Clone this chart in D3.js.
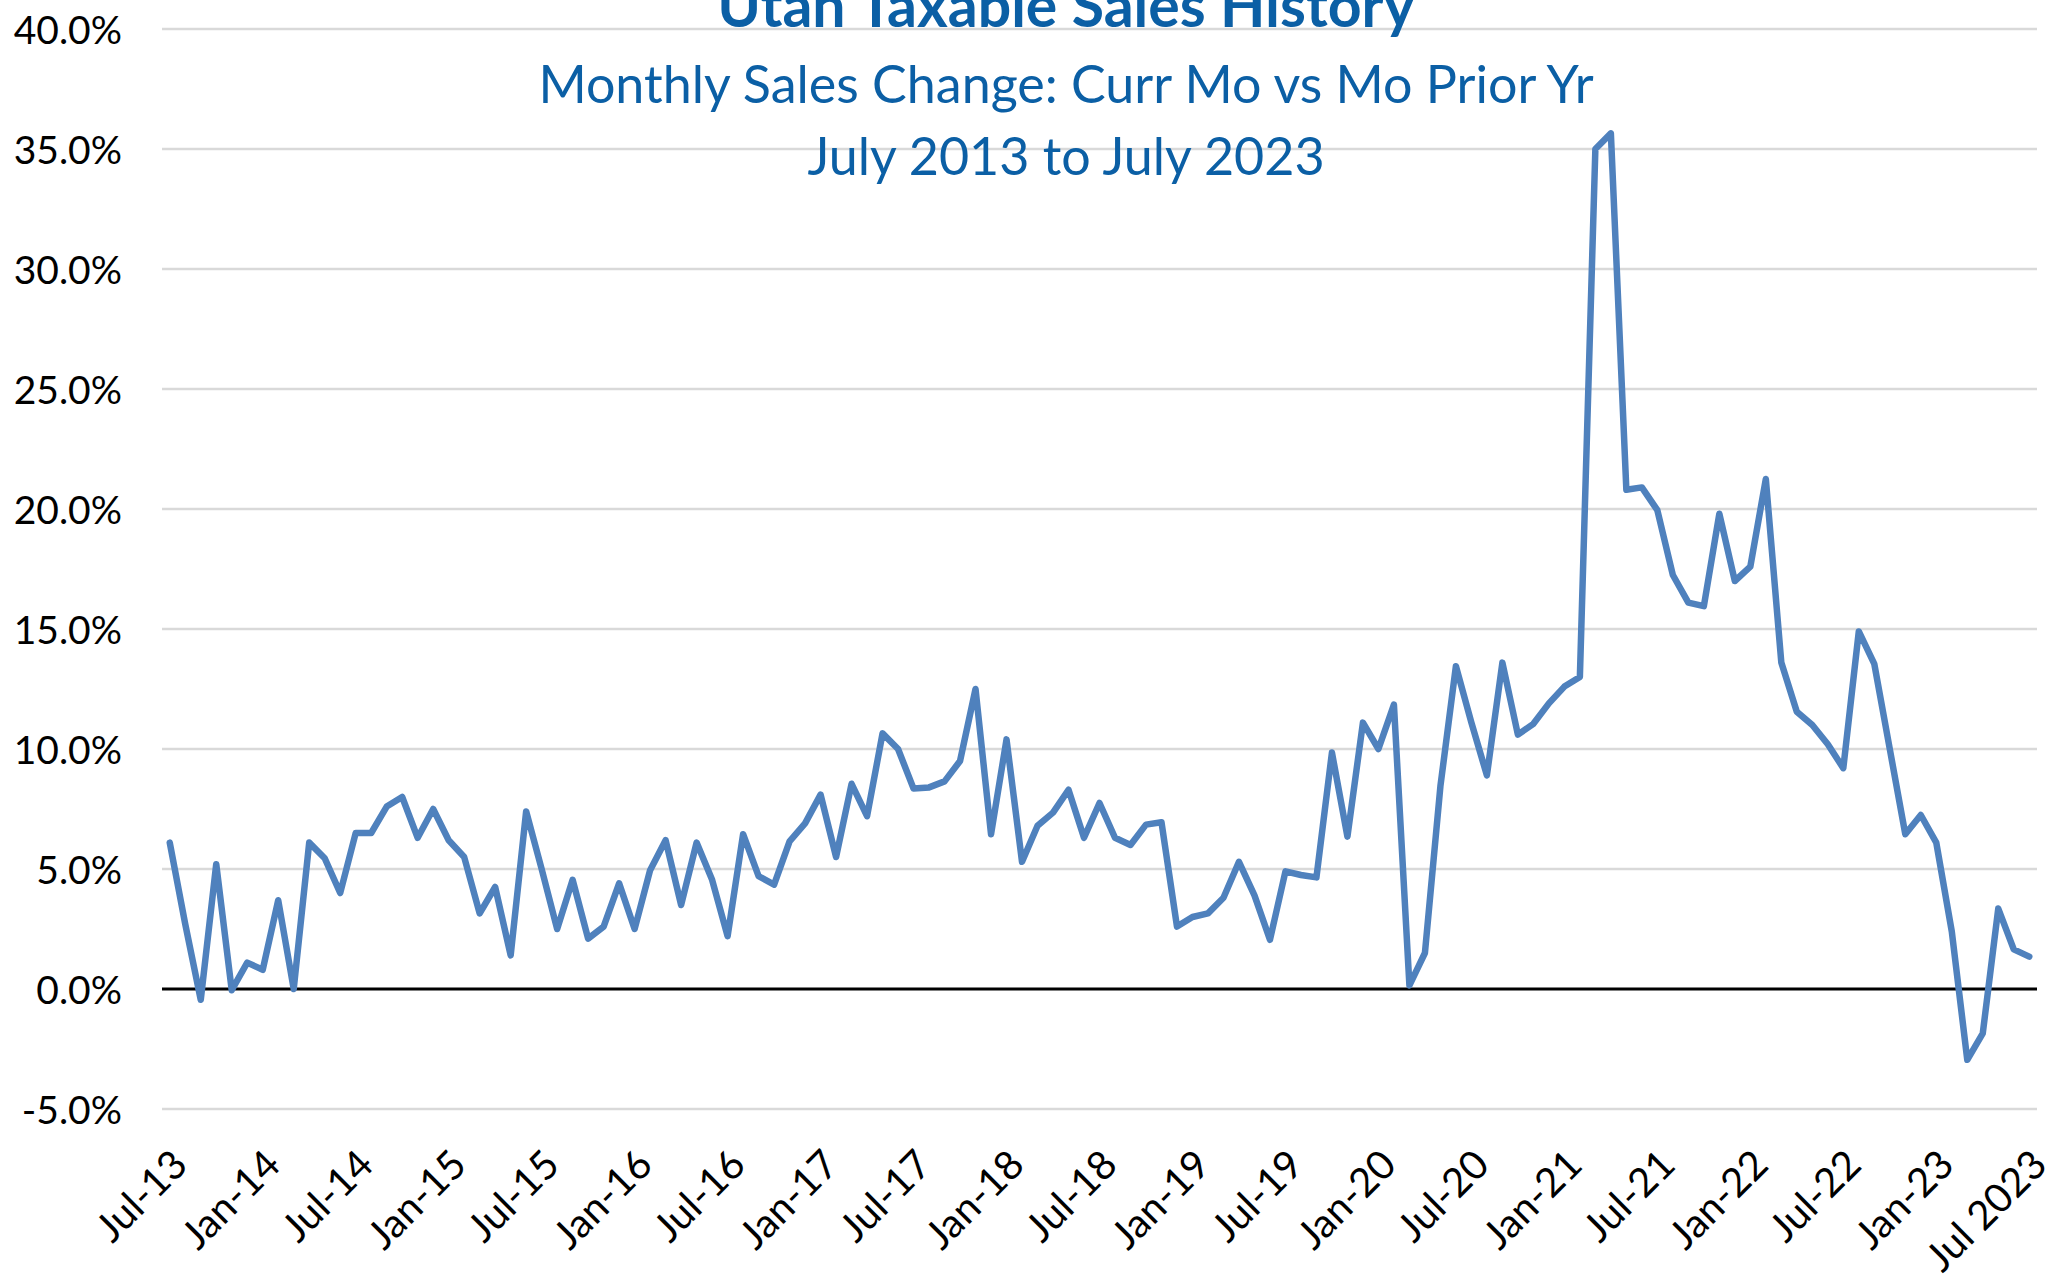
<!DOCTYPE html>
<html>
<head>
<meta charset="utf-8">
<script src="https://cdn.jsdelivr.net/npm/d3@7"></script>
<style>
	body { margin: 0; background: #fff; }
	.axis_text { font-family: Lato, "Open Sans", sans-serif; fill: #000; }
</style>
</head>
<body>
<figure id="salesline" style="margin:0"></figure>
<script>
// monthly change vs same month prior year, Jul 2013 .. Jul 2023 (percent)
var salesChange = [
	6.1, 2.7, -0.45, 5.2, -0.05, 1.1, 0.8, 3.7, 0.0, 6.1, 5.45, 4.0,
	6.5, 6.5, 7.6, 8.0, 6.3, 7.5, 6.2, 5.5, 3.15, 4.25, 1.4, 7.4,
	5.0, 2.5, 4.55, 2.1, 2.6, 4.4, 2.5, 4.95, 6.2, 3.5, 6.1, 4.55,
	2.2, 6.45, 4.7, 4.35, 6.15, 6.9, 8.1, 5.5, 8.55, 7.2, 10.65, 10.0,
	8.35, 8.4, 8.65, 9.5, 12.5, 6.45, 10.4, 5.3, 6.8, 7.35, 8.3, 6.3,
	7.75, 6.3, 6.0, 6.85, 6.95, 2.6, 3.0, 3.15, 3.8, 5.3, 3.9, 2.05,
	4.9, 4.75, 4.65, 9.85, 6.35, 11.1, 10.0, 11.85, 0.15, 1.5, 8.45, 13.45,
	11.1, 8.9, 13.6, 10.6, 11.05, 11.9, 12.6, 13.0, 35.0, 35.65, 20.8, 20.9,
	19.95, 17.25, 16.1, 15.95, 19.8, 17.0, 17.6, 21.25, 13.6, 11.55, 11.0, 10.2,
	9.2, 14.9, 13.55, 10.0, 6.45, 7.25, 6.1, 2.4, -2.95, -1.85, 3.35, 1.65,
	1.35
];

var monthList = d3.timeMonth.range(new Date(2013, 6, 1), new Date(2023, 7, 1));

var tickLabels = ["Jul-13", "Jan-14", "Jul-14", "Jan-15", "Jul-15", "Jan-16", "Jul-16",
	"Jan-17", "Jul-17", "Jan-18", "Jul-18", "Jan-19", "Jul-19", "Jan-20", "Jul-20",
	"Jan-21", "Jul-21", "Jan-22", "Jul-22", "Jan-23", "Jul 2023"];

var yTicks = [-5, 0, 5, 10, 15, 20, 25, 30, 35, 40];

var titleLines = ["Utah Taxable Sales History",
	"Monthly Sales Change: Curr Mo vs Mo Prior Yr",
	"July 2013 to July 2023"];

let dimensions = {
	width: 2063,
	height: 1282,
	margin: {
		top: 29,
		right: 26,
		bottom: 173,
		left: 162,
	},
};

dimensions.boundedWidth = dimensions.width
	- dimensions.margin.left
	- dimensions.margin.right;
dimensions.boundedHeight = dimensions.height
	- dimensions.margin.top
	- dimensions.margin.bottom;

var root = d3.select("figure#salesline")
	.append("svg")
	.attr("width", dimensions.width)
	.attr("height", dimensions.height)
	.attr("viewBox", `0 0 ${dimensions.width} ${dimensions.height}`);

var svg = root.append("g")
	.attr("transform", `translate(${dimensions.margin.left},${dimensions.margin.top})`);

var data = salesChange.map((v, i) => ({ month: monthList[i], value: v }));

// category axis, each month sits in the middle of its slot
var xScale = d3.scaleBand()
	.domain(d3.range(data.length))
	.range([0, dimensions.boundedWidth])
	.padding(0);

var xPos = i => xScale(i) + xScale.bandwidth() / 2;

var yScale = d3.scaleLinear()
	.domain([-5, 40])
	.range([dimensions.boundedHeight, 0]);

// gridlines
svg.append("g")
	.attr("class", "grid")
	.selectAll("line")
	.data(yTicks.filter(d => d !== 0))
	.enter()
		.append("line")
		.attr("x1", 0)
		.attr("x2", dimensions.boundedWidth)
		.attr("y1", d => yScale(d))
		.attr("y2", d => yScale(d))
		.attr("stroke", "#d9d9d9")
		.attr("stroke-width", 2.5);

// y axis labels (plain hyphen for negatives, like the original)
var yAxis = svg.append("g")
	.attr("class", "y axis")
	.call(d3.axisLeft(yScale)
		.tickValues(yTicks)
		.tickSize(0)
		.tickPadding(40)
		.tickFormat(d => d.toFixed(1) + "%"));
yAxis.select(".domain").remove();
yAxis.selectAll("text")
	.attr("class", "axis_text")
	.attr("font-size", 39)
	.attr("dy", "0.36em");

// x axis labels, every six months
var tickIdx = d3.range(0, data.length, 6);
var xAxis = svg.append("g")
	.attr("class", "x axis")
	.attr("transform", `translate(0,${dimensions.boundedHeight})`)
	.call(d3.axisBottom(xScale)
		.tickValues(tickIdx)
		.tickSize(0)
		.tickFormat((d, i) => tickLabels[i]));
xAxis.select(".domain").remove();
xAxis.selectAll("text")
	.attr("class", "axis_text")
	.attr("font-size", 40)
	.attr("text-anchor", "end")
	.attr("dy", 0)
	.attr("y", 0)
	.attr("transform", "translate(20,58) rotate(-45)");

// zero line
svg.append("line")
	.attr("x1", 0)
	.attr("x2", dimensions.boundedWidth)
	.attr("y1", yScale(0))
	.attr("y2", yScale(0))
	.attr("stroke", "#000")
	.attr("stroke-width", 3);

var line = d3.line()
	.x((d, i) => xPos(i))
	.y(d => yScale(d.value));

svg.append("path")
	.datum(data)
	.attr("fill", "none")
	.attr("stroke", "#4f81bd")
	.attr("stroke-width", 6.5)
	.attr("stroke-linejoin", "round")
	.attr("stroke-linecap", "round")
	.attr("d", line);

// titles
var titles = root.append("g")
	.attr("font-family", "Lato, 'Open Sans', sans-serif")
	.attr("fill", "#0b5fa5")
	.attr("text-anchor", "middle");

titles.selectAll("text")
	.data(titleLines)
	.enter()
		.append("text")
		.attr("x", 1066)
		.attr("y", (d, i) => [27, 103, 175][i])
		.attr("font-size", (d, i) => i === 0 ? 59 : 52)
		.attr("font-weight", (d, i) => i === 0 ? "bold" : "normal")
		.text(d => d);
</script>
</body>
</html>
